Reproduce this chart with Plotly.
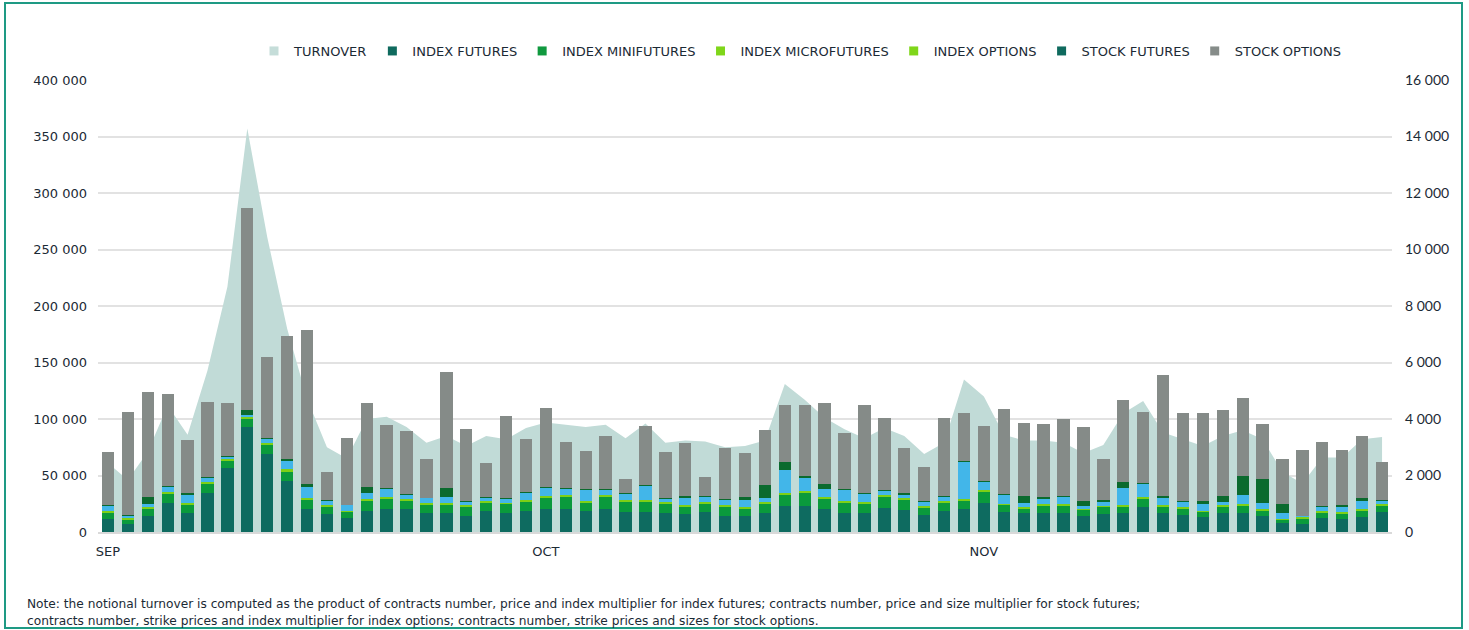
import plotly.graph_objects as go

# ---- data (daily values, Sep-Nov) ----
days = list(range(65))
month_tick_pos = [0, 22, 44]
month_labels = ["SEP", "OCT", "NOV"]

# contracts, thousands
index_futures = [11.8, 7.4, 14.5, 25.4, 17.1, 34.8, 56.9, 92.6, 69.3, 45.4,
                 20.6, 16.2, 12.7, 18.9, 20.6, 20.6, 17.1, 17.1, 14.5, 18.9,
                 17.1, 18.9, 20.6, 20.6, 18.9, 20.6, 18.0, 18.0, 17.1, 16.2,
                 18.0, 14.5, 14.5, 17.1, 23.3, 23.3, 20.6, 17.1, 17.1, 21.5,
                 19.8, 15.3, 18.9, 20.6, 26.0, 18.0, 17.1, 17.1, 17.1, 14.5,
                 16.2, 17.1, 22.4, 17.1, 15.3, 13.6, 17.1, 17.1, 14.5, 8.3,
                 7.4, 12.7, 11.8, 13.6, 18.0]
index_minifutures = [5.6, 3.8, 6.1, 8.8, 7.4, 8.3, 6.5, 7.7, 8.0, 7.4,
                     8.3, 6.5, 5.6, 8.8, 8.9, 7.1, 7.4, 7.4, 8.2, 7.1,
                     8.0, 7.9, 9.8, 10.7, 7.1, 10.7, 8.8, 8.8, 8.0, 6.5,
                     7.4, 8.2, 6.1, 8.3, 9.7, 11.5, 8.9, 8.9, 8.0, 9.8,
                     8.8, 6.5, 7.1, 7.1, 9.7, 6.2, 3.5, 6.5, 6.5, 5.3,
                     6.2, 5.3, 7.1, 5.3, 5.3, 4.7, 5.3, 6.5, 4.4, 2.9,
                     3.8, 4.7, 4.7, 4.7, 5.6]
index_microfutures = [0.9, 0.9, 1.2, 0.9, 1.2, 0.9, 1.2, 1.2, 1.2, 2.7,
                      0.9, 1.2, 0.6, 1.5, 1.8, 1.5, 1.5, 1.5, 1.5, 1.1,
                      0.9, 1.8, 1.8, 1.7, 1.1, 1.7, 1.8, 1.8, 1.2, 1.5,
                      0.9, 1.2, 1.5, 0.9, 1.8, 1.8, 1.8, 1.7, 1.7, 1.7,
                      1.8, 1.5, 1.7, 1.8, 1.8, 0.6, 1.2, 0.9, 0.9, 0.8,
                      0.9, 1.2, 1.8, 1.2, 1.2, 0.6, 1.2, 0.9, 1.2, 0.6,
                      2.7, 0.9, 0.9, 1.8, 0.9]
index_options = [5.3, 2.6, 2.7, 5.0, 6.7, 4.4, 2.4, 2.3, 4.1, 8.2,
                 10.3, 3.8, 5.0, 5.3, 7.3, 4.4, 4.1, 5.3, 3.2, 3.6,
                 3.5, 6.2, 7.0, 5.3, 10.9, 5.0, 5.9, 12.7, 3.5, 6.5,
                 5.3, 4.7, 6.5, 4.1, 20.4, 11.8, 7.0, 10.1, 7.1, 3.6,
                 2.0, 3.5, 3.9, 33.3, 7.3, 8.2, 3.6, 5.3, 6.8, 2.7,
                 3.8, 15.6, 11.5, 7.1, 5.3, 5.6, 2.7, 7.9, 5.3, 4.7,
                 0.3, 4.4, 5.3, 7.6, 3.2]
stock_futures = [0.6, 0.6, 6.8, 0.3, 2.1, 0.6, 0.6, 4.5, 0.3, 0.6,
                 2.4, 0.3, 0.3, 5.3, 0.3, 0.3, 0.3, 7.6, 0.3, 0.6,
                 0.3, 0.6, 0.3, 0.9, 0.3, 0.3, 0.3, 0.3, 0.3, 0.9,
                 0.3, 0.3, 2.7, 11.2, 6.5, 1.2, 4.5, 0.2, 0.3, 0.9,
                 1.8, 0.3, 0.6, 0.3, 0.6, 0.9, 6.8, 1.2, 0.3, 4.4,
                 0.9, 5.0, 0.6, 0.9, 0.3, 3.2, 5.6, 17.5, 21.8, 8.6,
                 0.3, 0.6, 1.2, 2.4, 0.3]
stock_options = [46.3, 90.7, 92.7, 82.0, 46.9, 66.3, 46.9, 178.7, 72.3, 109.4,
                 136.5, 25.1, 58.7, 74.4, 55.5, 55.2, 34.5, 102.7, 63.2, 30.1,
                 72.9, 47.2, 69.9, 40.2, 33.4, 47.0, 12.4, 52.5, 41.0, 47.2,
                 16.5, 45.4, 38.6, 49.0, 50.4, 62.5, 71.4, 49.9, 78.2, 63.7,
                 40.1, 30.7, 68.4, 42.5, 48.7, 74.7, 64.0, 64.3, 68.1, 65.2,
                 36.6, 72.6, 62.5, 107.6, 77.6, 77.6, 76.1, 68.7, 48.7, 39.5,
                 58.4, 56.6, 48.7, 55.2, 34.2]
# notional turnover, mn EUR (right axis)
turnover = [2440, 1840, 2840, 4480, 3440, 5720, 8680, 14280, 10440, 7200,
            4720, 3000, 2600, 4000, 4080, 3720, 3160, 3400, 3040, 3400,
            3280, 3680, 3880, 3800, 3720, 3800, 3320, 3840, 3160, 3240,
            3200, 3000, 3040, 3240, 5240, 4680, 4040, 3640, 3320, 3680,
            3400, 2760, 3160, 5400, 4800, 3440, 3240, 3240, 3160, 2800,
            3080, 4200, 4640, 3520, 3280, 3040, 3400, 3600, 3280, 2120,
            1720, 2640, 2640, 3280, 3360]

left_ticks = list(range(0, 400001, 50000))
right_ticks = list(range(0, 16001, 2000))

series = [
    ("INDEX FUTURES", index_futures, "#0E6B60", "#0F6A5E"),
    ("INDEX MINIFUTURES", index_minifutures, "#0A9A3C", "#10993F"),
    ("INDEX MICROFUTURES", index_microfutures, "#7DD016", "#7FD61A"),
    ("INDEX OPTIONS", index_options, "#42B6E9", "#7FD61A"),
    ("STOCK FUTURES", stock_futures, "#0B6A2E", "#0F6A5E"),
    ("STOCK OPTIONS", stock_options, "#858B88", "#868C89"),
]

TXT = "#1B2A35"
FONT = "DejaVu Sans"

fig = go.Figure()

# turnover area (primary y, drawn on right side, beneath bars)
fig.add_trace(go.Scatter(
    x=days, y=turnover, mode="lines", fill="tozeroy",
    line=dict(width=0, color="#C1DBD7"), fillcolor="#C1DBD7",
    yaxis="y", showlegend=False, hoverinfo="skip"))

for name, vals, color, _ in series:
    fig.add_trace(go.Bar(
        x=days, y=[v * 1000 for v in vals], name=name,
        marker=dict(color=color, line=dict(width=0)),
        yaxis="y2", showlegend=False))

# legend entries (small squares)
legend_items = [("TURNOVER", "#C5DDD9")] + [(s[0], s[3]) for s in series]
for name, col in legend_items:
    fig.add_trace(go.Scatter(
        x=[None], y=[None], mode="markers", name=name,
        marker=dict(symbol="square", size=9, color=col),
        yaxis="y2", showlegend=True))

# plot area in px: x 98..1392, y 80..532
L, R, T, B = 98, 1392, 80, 532
W, H = 1469, 630
def px(xp):
    return (xp - L) / (R - L)
def py(yp):
    return (B - yp) / (B - T)

fig.update_layout(
    width=W, height=H, autosize=False,
    margin=dict(l=L, r=W - R, t=T, b=H - B, pad=0),
    paper_bgcolor="white", plot_bgcolor="white",
    barmode="stack", bargap=0.38,
    separators=". ",
    font=dict(family=FONT, size=13, color=TXT),
    xaxis=dict(
        range=[-0.5, 64.5], tickmode="array", tickvals=month_tick_pos,
        ticktext=month_labels, showgrid=False, zeroline=False,
        showline=True, linecolor="#D9D9D9", linewidth=2, ticks="",
        tickfont=dict(family=FONT, size=13, color=TXT), ticklabelstandoff=6),
    yaxis=dict(
        range=[0, 16000], tickvals=right_ticks, tickformat=",d",
        side="right", showgrid=False, zeroline=False, showline=False,
        tickfont=dict(family="Lato", size=14, color=TXT), ticklabelstandoff=12),
    yaxis2=dict(
        range=[0, 400000], tickvals=left_ticks, tickformat=",d",
        overlaying="y", side="left", showgrid=True, gridcolor="#E2E2E2",
        gridwidth=1.5, zeroline=False, showline=False,
        tickfont=dict(family=FONT, size=13, color=TXT), ticklabelstandoff=10),
    legend=dict(
        orientation="h", x=px(800), xanchor="center", y=py(51), yanchor="middle",
        font=dict(family=FONT, size=13, color=TXT), itemwidth=30,
        bgcolor="rgba(0,0,0,0)", traceorder="normal"),
    shapes=[dict(
        type="rect", xref="paper", yref="paper",
        x0=px(5), x1=px(1462), y0=py(628), y1=py(3),
        line=dict(color="#1E9A84", width=2), fillcolor="rgba(0,0,0,0)", layer="above")],
    annotations=[
        dict(xref="paper", yref="paper", x=px(25), y=py(604), xanchor="left",
             yanchor="middle", showarrow=False, align="left",
             font=dict(family=FONT, size=12.2, color=TXT),
             text="Note: the notional turnover is computed as the product of contracts number, price and index multiplier for index futures; contracts number, price and size multiplier for stock futures;"),
        dict(xref="paper", yref="paper", x=px(25), y=py(621), xanchor="left",
             yanchor="middle", showarrow=False, align="left",
             font=dict(family=FONT, size=12.2, color=TXT),
             text="contracts number, strike prices and index multiplier for index options; contracts number, strike prices and sizes for stock options."),
    ],
)

fig.write_html(
    "out.html",
    config={"displayModeBar": False},
    post_script="document.body.style.margin='0';document.body.style.overflow='hidden';",
)
